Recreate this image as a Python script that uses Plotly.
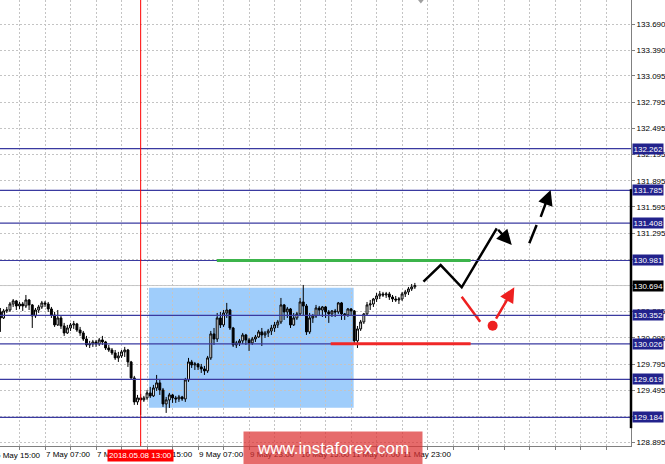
import plotly.graph_objects as go

# ---------------- data (USD/JPY H1) ----------------
bar_index = list(range(131))

opens = [130.392, 130.323, 130.403, 130.414, 130.483, 130.518, 130.460, 130.483, 130.460, 130.529,
         130.472, 130.346, 130.414, 130.449, 130.495, 130.483, 130.426, 130.357, 130.243, 130.323,
         130.231, 130.151, 130.208, 130.243, 130.254, 130.185, 130.151, 130.082, 130.014, 130.025,
         130.048, 130.025, 130.071, 130.048, 129.979, 129.956, 129.922, 129.865, 129.888, 129.934,
         129.956, 129.819, 129.636, 129.361, 129.407, 129.384, 129.407, 129.464, 129.430, 129.521,
         129.579, 129.498, 129.338, 129.384, 129.441, 129.407, 129.395, 129.418, 129.395, 129.613,
         129.819, 129.785, 129.796, 129.762, 129.739, 129.716, 129.865, 130.140, 130.082, 130.323,
         130.243, 130.380, 130.414, 130.208, 130.014, 130.037, 130.060, 130.128, 130.071, 130.037,
         130.082, 130.105, 130.163, 130.128, 130.151, 130.174, 130.208, 130.243, 130.277, 130.472,
         130.392, 130.426, 130.243, 130.323, 130.369, 130.506, 130.460, 130.163, 130.323, 130.346,
         130.437, 130.414, 130.449, 130.392, 130.369, 130.403, 130.392, 130.495, 130.369, 130.357,
         130.426, 130.403, 130.060, 130.197, 130.277, 130.369, 130.472, 130.483, 130.540, 130.575,
         130.598, 130.586, 130.598, 130.563, 130.540, 130.529, 130.540, 130.598, 130.621, 130.655,
         130.678]
highs = [130.437, 130.426, 130.449, 130.506, 130.540, 130.529, 130.506, 130.506, 130.586, 130.540,
         130.483, 130.437, 130.472, 130.518, 130.518, 130.506, 130.449, 130.392, 130.414, 130.346,
         130.266, 130.243, 130.266, 130.289, 130.266, 130.220, 130.174, 130.117, 130.060, 130.071,
         130.071, 130.094, 130.117, 130.060, 130.014, 129.979, 129.956, 129.934, 129.956, 129.991,
         129.968, 129.831, 129.659, 129.441, 129.453, 129.430, 129.498, 129.533, 129.556, 129.670,
         129.613, 129.521, 129.418, 129.464, 129.453, 129.430, 129.441, 129.430, 129.636, 129.865,
         129.842, 129.819, 129.808, 129.796, 129.773, 129.888, 130.174, 130.208, 130.380, 130.392,
         130.414, 130.495, 130.426, 130.220, 130.060, 130.082, 130.151, 130.140, 130.094, 130.105,
         130.128, 130.185, 130.208, 130.174, 130.197, 130.243, 130.277, 130.300, 130.552, 130.483,
         130.449, 130.437, 130.380, 130.392, 130.552, 130.701, 130.483, 130.380, 130.369, 130.472,
         130.460, 130.460, 130.460, 130.414, 130.414, 130.426, 130.506, 130.506, 130.380, 130.437,
         130.437, 130.414, 130.231, 130.300, 130.380, 130.506, 130.529, 130.552, 130.609, 130.632,
         130.621, 130.621, 130.621, 130.586, 130.575, 130.563, 130.621, 130.644, 130.678, 130.712,
         130.724]
lows = [130.163, 130.311, 130.380, 130.392, 130.449, 130.414, 130.426, 130.403, 130.437, 130.414,
        130.208, 130.323, 130.380, 130.426, 130.449, 130.392, 130.323, 130.220, 130.231, 130.197,
        130.117, 130.140, 130.174, 130.197, 130.163, 130.117, 130.060, 129.991, 129.979, 129.991,
        129.991, 130.002, 130.014, 129.956, 129.934, 129.899, 129.842, 129.819, 129.865, 129.876,
        129.762, 129.613, 129.327, 129.327, 129.212, 129.361, 129.384, 129.407, 129.418, 129.487,
        129.441, 129.304, 129.235, 129.292, 129.350, 129.350, 129.361, 129.373, 129.361, 129.590,
        129.750, 129.727, 129.727, 129.693, 129.670, 129.693, 129.842, 130.014, 130.048, 130.208,
        130.220, 130.323, 130.185, 129.991, 129.979, 130.002, 130.025, 130.014, 129.945, 130.014,
        130.048, 130.094, 130.002, 130.094, 130.105, 130.128, 130.163, 130.208, 130.254, 130.300,
        130.323, 130.208, 130.231, 130.300, 130.357, 130.357, 130.128, 130.140, 130.266, 130.323,
        130.357, 130.334, 130.323, 130.266, 130.334, 130.334, 130.369, 130.300, 130.300, 130.334,
        130.357, 130.014, 129.979, 130.174, 130.254, 130.357, 130.414, 130.449, 130.506, 130.540,
        130.563, 130.552, 130.529, 130.506, 130.506, 130.483, 130.518, 130.563, 130.586, 130.632,
        130.655]
closes = [130.323, 130.403, 130.414, 130.483, 130.518, 130.460, 130.483, 130.460, 130.529, 130.472,
          130.346, 130.414, 130.449, 130.495, 130.483, 130.426, 130.357, 130.243, 130.323, 130.231,
          130.151, 130.208, 130.243, 130.254, 130.185, 130.151, 130.082, 130.014, 130.025, 130.048,
          130.025, 130.071, 130.048, 129.979, 129.956, 129.922, 129.865, 129.888, 129.934, 129.956,
          129.819, 129.636, 129.361, 129.407, 129.384, 129.407, 129.464, 129.430, 129.521, 129.579,
          129.498, 129.338, 129.384, 129.441, 129.407, 129.395, 129.418, 129.395, 129.613, 129.819,
          129.785, 129.796, 129.762, 129.739, 129.716, 129.865, 130.140, 130.082, 130.323, 130.243,
          130.380, 130.414, 130.208, 130.014, 130.037, 130.060, 130.128, 130.071, 130.037, 130.082,
          130.105, 130.163, 130.128, 130.151, 130.174, 130.208, 130.243, 130.277, 130.472, 130.392,
          130.426, 130.243, 130.323, 130.369, 130.506, 130.460, 130.163, 130.323, 130.346, 130.437,
          130.414, 130.449, 130.392, 130.369, 130.403, 130.392, 130.495, 130.369, 130.357, 130.426,
          130.403, 130.060, 130.197, 130.277, 130.369, 130.472, 130.483, 130.540, 130.575, 130.598,
          130.586, 130.598, 130.563, 130.540, 130.529, 130.540, 130.598, 130.621, 130.655, 130.678,
          130.694]

levels = [132.262, 131.785, 131.408, 130.981, 130.352, 130.026, 129.619, 129.184]
bid_price = 130.694
y_ticks = [133.690, 133.390, 133.095, 132.795, 132.495, 132.195, 131.895, 131.595, 131.295,
           130.995, 130.695, 130.395, 130.095, 129.795, 129.495, 129.195, 128.895]
y_hidden = [130.995, 130.695, 129.195]   # labels fully covered by level boxes
x_grid = [6, 14, 22, 30, 38, 46, 54, 62, 70, 78, 86, 94, 102, 110, 118, 126, 134, 142,
          150, 158, 166, 174, 182, 190]
x_labels = {14: "7 May 07:00", 30: "7 May 23:00", 46: "8 May 15:00", 62: "9 May 07:00",
            78: "9 May 23:00", 94: "10 May 15:00", 110: "11 May 07:00", 126: "11 May 23:00"}
first_label = "6 May 15:00"
marker_bar = 44
marker_text = "2018.05.08 13:00"

# forecast drawings (bar index, price)
black_path_x = [132.7, 138.1, 144.7, 155.7]
black_path_y = [130.738, 130.929, 130.674, 131.350]
black_arrow = (155.7, 131.350, 160.4, 131.159)
dash_seg_x = [165.9, 168.2]
dash_seg_y = [131.178, 131.388]
dash_arrow = (169.3, 131.464, 172.6, 131.789)
red_seg_x = [144.7, 150.5]
red_seg_y = [130.566, 130.280]
red_dot = (154.4, 130.234)
red_arrow = (155.2, 130.299, 161.2, 130.674)
box_zone = (46.6, 110.8, 129.295, 130.670)
green_seg = (67.9, 147.5, 130.981)
red_hseg = (103.6, 147.5, 130.026)

FONT = "Liberation Sans, Arial, sans-serif"
NAVY = "#22228c"
LEVEL_LINE = "#3a3aa0"
GRID = "#c4c4c4"

fig = go.Figure()

fig.add_trace(go.Candlestick(
    x=bar_index, open=opens, high=highs, low=lows, close=closes,
    increasing=dict(line=dict(color="black", width=1), fillcolor="white"),
    decreasing=dict(line=dict(color="black", width=1), fillcolor="black"),
    whiskerwidth=0, hoverinfo="skip", showlegend=False))

fig.add_trace(go.Scatter(x=black_path_x, y=black_path_y, mode="lines",
                         line=dict(color="black", width=2.5), hoverinfo="skip", showlegend=False))
fig.add_trace(go.Scatter(x=dash_seg_x, y=dash_seg_y, mode="lines",
                         line=dict(color="black", width=2.5), hoverinfo="skip", showlegend=False))
fig.add_trace(go.Scatter(x=red_seg_x, y=red_seg_y, mode="lines",
                         line=dict(color="#ee2020", width=2.5), hoverinfo="skip", showlegend=False))
fig.add_trace(go.Scatter(x=[red_dot[0]], y=[red_dot[1]], mode="markers",
                         marker=dict(color="#ee2020", size=10), hoverinfo="skip", showlegend=False))

shapes = []
shapes.append(dict(type="rect", xref="x", yref="y", x0=box_zone[0], x1=box_zone[1],
                   y0=box_zone[2], y1=box_zone[3], fillcolor="#9fcdfb", line=dict(width=0),
                   layer="below"))
shapes.append(dict(type="line", xref="paper", yref="y", x0=0, x1=1, y0=bid_price, y1=bid_price,
                   line=dict(color="#c8c8c8", width=1), layer="between"))
for lv in levels:
    shapes.append(dict(type="line", xref="paper", yref="y", x0=0, x1=1, y0=lv, y1=lv,
                       line=dict(color=LEVEL_LINE, width=1.2), layer="above"))
shapes.append(dict(type="line", xref="x", yref="paper", x0=marker_bar, x1=marker_bar, y0=0, y1=1,
                   line=dict(color="#ff0000", width=1), layer="above"))
shapes.append(dict(type="line", xref="x", yref="y", x0=green_seg[0], x1=green_seg[1],
                   y0=green_seg[2], y1=green_seg[2], line=dict(color="#3cb44b", width=3), layer="above"))
shapes.append(dict(type="line", xref="x", yref="y", x0=red_hseg[0], x1=red_hseg[1],
                   y0=red_hseg[2], y1=red_hseg[2], line=dict(color="#f02828", width=3), layer="above"))
# thick part of the price scale line
shapes.append(dict(type="line", xref="paper", yref="paper", x0=1, x1=1, y0=0.040, y1=0.576,
                   line=dict(color="black", width=2.5), layer="above"))
# chart-shift marker at top
shapes.append(dict(type="path", xref="paper", yref="paper",
                   path="M 0.6625 1 L 0.6715 1 L 0.667 0.992 Z",
                   fillcolor="#a0a0a0", line=dict(width=0), layer="above"))

annotations = []
for lv in levels:
    annotations.append(dict(x=1, xref="paper", xanchor="left", xshift=1, y=lv, yref="y",
                            yanchor="middle", text=f"{lv:.3f}", showarrow=False,
                            bgcolor=NAVY, borderpad=0.5,
                            font=dict(family=FONT, size=8, color="white")))
annotations.append(dict(x=1, xref="paper", xanchor="left", xshift=1, y=bid_price, yref="y",
                        yanchor="middle", text=f"{bid_price:.3f}", showarrow=False,
                        bgcolor="black", borderpad=0.5,
                        font=dict(family=FONT, size=8, color="white")))
annotations.append(dict(x=-6 / 631, xref="paper", xanchor="left", y=0, yref="paper",
                        yanchor="top", yshift=-3, text=first_label, showarrow=False,
                        font=dict(family=FONT, size=8, color="black")))
annotations.append(dict(x=marker_bar, xref="x", xanchor="center", y=0, yref="paper",
                        yanchor="top", yshift=-3, text=marker_text, showarrow=False,
                        bgcolor="#ff0000", borderpad=1,
                        font=dict(family=FONT, size=8, color="white")))
for (ax_, ay_, x_, y_), col in [(black_arrow, "black"), (dash_arrow, "black"), (red_arrow, "#ee2020")]:
    annotations.append(dict(x=x_, y=y_, ax=ax_, ay=ay_, xref="x", yref="y", axref="x", ayref="y",
                            text="", showarrow=True, arrowhead=2, arrowsize=1.2, arrowwidth=2.5,
                            arrowcolor=col, standoff=0, startstandoff=0))
annotations.append(dict(x=333 / 631, xref="paper", xanchor="center", y=-0.0045, yref="paper",
                        yanchor="middle", text="www.instaforex.com", showarrow=False,
                        width=178, height=32, borderpad=0, bgcolor="rgba(220,50,50,0.72)",
                        font=dict(family=FONT, size=17, color="white")))

fig.update_layout(
    template="none",
    width=665, height=464,
    margin=dict(l=0, r=34, t=0, b=18, pad=0),
    paper_bgcolor="white", plot_bgcolor="white",
    showlegend=False, boxgap=0.15,
    shapes=shapes, annotations=annotations,
    font=dict(family=FONT, size=8, color="black"),
    xaxis=dict(range=[-0.125, 197.8], tickmode="array", tickvals=x_grid,
               ticktext=[x_labels.get(v, "") for v in x_grid],
               ticklabelposition="outside right", tickangle=0,
               showgrid=True, gridcolor=GRID, griddash="2px,2px", gridwidth=1,
               showline=True, linecolor="#808080", linewidth=1,
               ticks="outside", ticklen=3, tickcolor="#808080",
               tickfont=dict(family=FONT, size=8, color="black"),
               zeroline=False, automargin=False, rangeslider=dict(visible=False),
               fixedrange=True),
    yaxis=dict(range=[128.856, 133.965], side="right", tickmode="array", tickvals=y_ticks,
               ticktext=["" if v in y_hidden else f"{v:.3f}" for v in y_ticks],
               showgrid=True, gridcolor=GRID, griddash="2px,2px", gridwidth=1,
               showline=True, linecolor="#808080", linewidth=1,
               ticks="outside", ticklen=3, tickcolor="#808080",
               tickfont=dict(family=FONT, size=8, color="black"),
               zeroline=False, automargin=False, fixedrange=True),
)

fig.write_html("out.html", config={"displayModeBar": False},
               post_script="document.body.style.margin='0px';document.body.style.overflow='hidden';")
